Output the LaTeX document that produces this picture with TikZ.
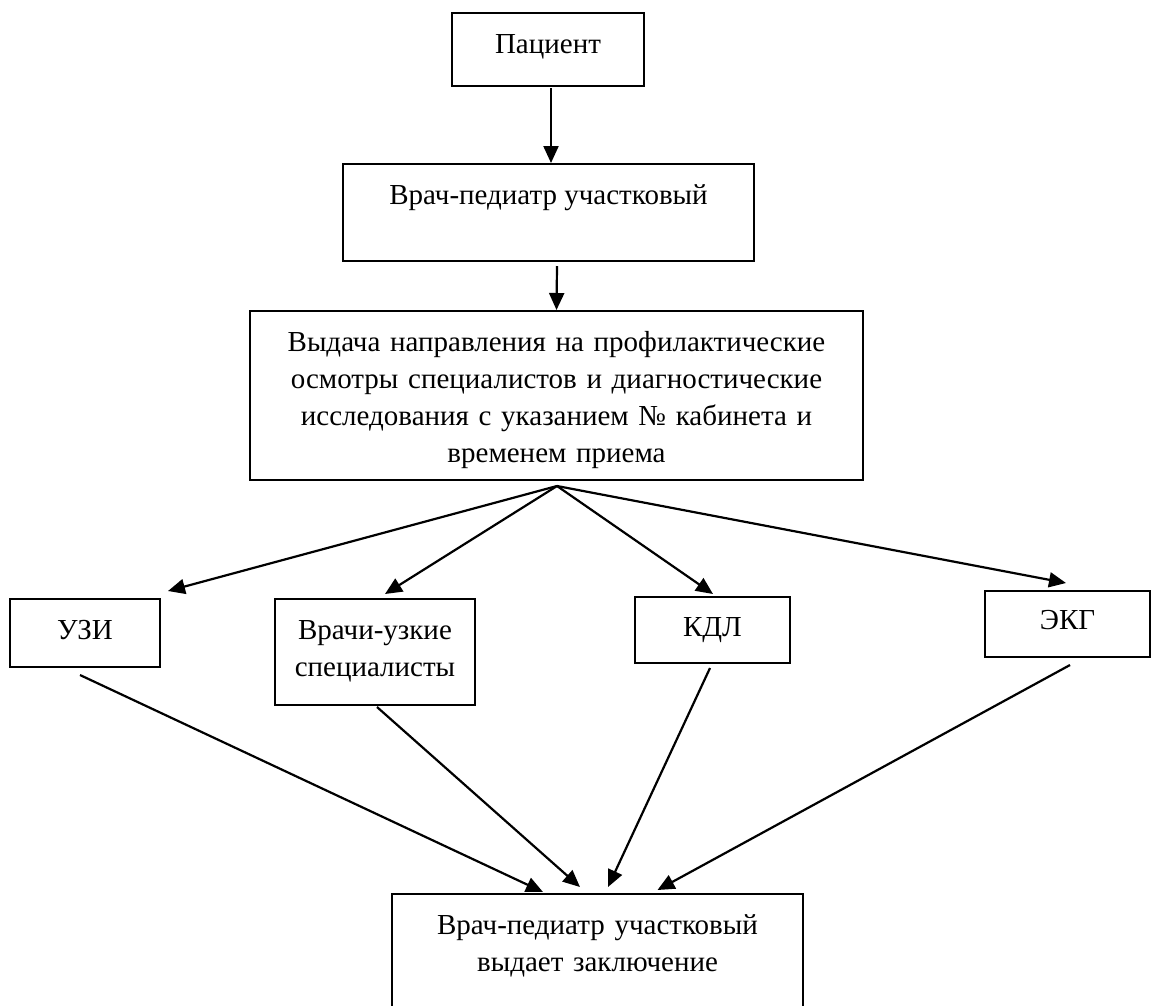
\documentclass[tikz,border=0pt]{standalone}
\usepackage{fontspec}
\setmainfont{Liberation Serif}
\usetikzlibrary{arrows.meta,calc}
\begin{document}
\begin{tikzpicture}[x=1pt,y=-1pt,
  box/.style={draw,line width=2pt,inner sep=0pt},
  lbl/.style={font=\fontsize{29}{37}\selectfont,align=center,inner sep=0pt,anchor=base},
  conn/.style={line width=2.2pt,-{Triangle[length=17pt,width=15pt]}}]
\useasboundingbox (0,0) rectangle (1156,1005);
\clip (0,0) rectangle (1156,1005);
\fill[white] (0,0) rectangle (1156,1005);
% boxes
\node[box,minimum width=192pt,minimum height=73pt] (pac) at (548,49.5) {};
\node[box,minimum width=411pt,minimum height=97pt] (vr1) at (548.5,212.5) {};
\node[box,minimum width=613pt,minimum height=169pt] (vyd) at (556.5,395.5) {};
\node[box,minimum width=150pt,minimum height=68pt] (uzi) at (85,633) {};
\node[box,minimum width=200pt,minimum height=106pt] (vu) at (375,652) {};
\node[box,minimum width=155pt,minimum height=66pt] (kdl) at (712.5,630) {};
\node[box,minimum width=165pt,minimum height=66pt] (ekg) at (1067.5,624) {};
\node[box,minimum width=411pt,minimum height=140pt] (fin) at (597.5,964) {};
% texts
\node[lbl] (tpac) at (548,53) {Пациент};
\node[lbl] (tvr1) at (548.5,204) {Врач-педиатр участковый};
\node[lbl,text width=600pt] (tvyd) at (556.5,351) {Выдача направления на профилактические\\осмотры специалистов и диагностические\\исследования с указанием № кабинета и\\временем приема};
\node[lbl] (tuzi) at (85,639) {УЗИ};
\node[lbl,text width=195pt] (tvu) at (375,639) {Врачи-узкие\\специалисты};
\node[lbl] (tkdl) at (712.5,636) {КДЛ};
\node[lbl] (tekg) at (1067.5,629) {ЭКГ};
\node[lbl,text width=405pt] (tfin) at (597.5,934) {Врач-педиатр участковый\\выдает заключение};
% connectors
\coordinate (s2) at ($(vr1.south)+(8.5,4)$);
\coordinate (f) at ($(vyd.south)+(0.5,5)$);
\draw[conn] ($(pac.south)+(3,1)$) -- ($(vr1.north)+(2.5,0)$);
\draw[conn] (s2) -- (vyd.north);
\draw[conn] (f) -- ($(uzi.north east)+(7,-7)$);
\draw[conn] (f) -- ($(vu.north)+(10,-4)$);
\draw[conn] (f) -- ($(kdl.north)+(0.5,-2)$);
\draw[conn] (f) -- ($(ekg.north)+(-1.5,-7)$);
\draw[conn] ($(uzi.south)+(-5,7)$) -- ($(fin.north)+(-54.5,-1)$);
\draw[conn] ($(vu.south)+(2,1)$) -- ($(fin.north)+(-17.5,-6)$);
\draw[conn] ($(kdl.south)+(-2.5,4)$) -- ($(fin.north)+(10.5,-6)$);
\draw[conn] ($(ekg.south)+(2.5,7)$) -- ($(fin.north)+(60,-3)$);
\end{tikzpicture}
\end{document}
